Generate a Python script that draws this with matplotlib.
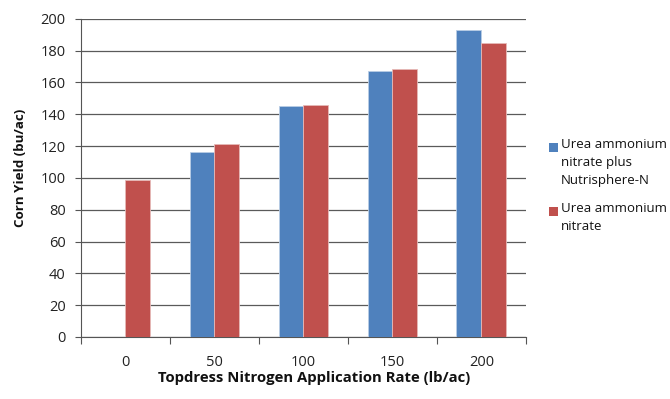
import numpy as np
import matplotlib.pyplot as plt
from matplotlib.patches import Rectangle

plt.rcParams["font.family"] = ["Open Sans", "DejaVu Sans"]

rates = ["0", "50", "100", "150", "200"]
uan_nutrisphere = [np.nan, 116.5, 145, 167, 193]
uan = [98.5, 121.5, 146, 168.5, 185]
series_labels = ["Urea ammonium\nnitrate plus\nNutrisphere-N", "Urea ammonium\nnitrate"]

blue = "#4F81BD"
red = "#C0504D"

W, H = 670, 399
fig = plt.figure(figsize=(W / 100, H / 100), dpi=100)
ax = fig.add_axes([0.1209, 0.1554, 0.664, 0.7976])

x = np.arange(len(rates))
w = 0.28
ax.bar(x - w / 2, uan_nutrisphere, w, color=blue, edgecolor="#b9cde5",
       linewidth=0.6, zorder=3)
ax.bar(x + w / 2, uan, w, color=red, edgecolor="#e6b9b8",
       linewidth=0.6, zorder=3)

ax.set_xlim(-0.5, len(rates) - 0.5)
ax.set_ylim(0, 200)
ax.set_yticks(np.arange(0, 201, 20))
ax.set_xticks(x)
ax.set_xticklabels(rates)
ax.set_xticks(np.arange(-0.5, len(rates)), minor=True)
ax.tick_params(axis="x", which="major", length=0, pad=13, labelsize=10.5, colors="#222222")
ax.tick_params(axis="x", which="minor", length=5, width=0.8, color="#555555")
ax.tick_params(axis="y", length=4, width=0.8, color="#555555", labelsize=10.5,
               labelcolor="#222222", pad=7)

ax.yaxis.grid(True, color="#5a5a5a", linewidth=0.9, zorder=0)
for side in ["top", "right"]:
    ax.spines[side].set_visible(False)
for side in ["left", "bottom"]:
    ax.spines[side].set_color("#555555")
    ax.spines[side].set_linewidth(0.8)

ax.set_xlabel("Topdress Nitrogen Application Rate (lb/ac)", fontsize=10.7,
              fontweight="bold", color="#111111")
ax.xaxis.set_label_coords(0.524, -0.107)
ax.set_ylabel("Corn Yield (bu/ac)", fontsize=9.6, fontweight="bold",
              color="#111111")
ax.yaxis.set_label_coords(-0.122, 0.53)

# legend: square swatch lined up with the first line of each label
for color, label, top in [(blue, series_labels[0], 143), (red, series_labels[1], 207)]:
    fig.patches.append(Rectangle((549 / W, 1 - (top + 9) / H), 9 / W, 9 / H,
                                 transform=fig.transFigure, facecolor=color,
                                 edgecolor="none"))
    fig.text(561 / W, 1 - (top - 5) / H, label, fontsize=9.5, va="top", ha="left",
             linespacing=1.5, color="#111111")

fig.savefig("out.png", dpi=100)
